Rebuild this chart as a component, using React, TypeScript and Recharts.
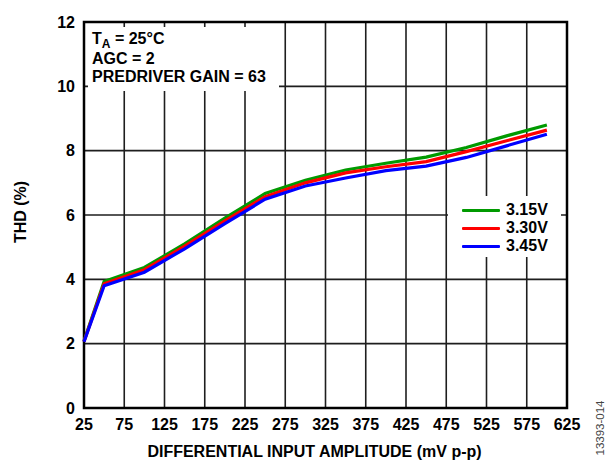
import React from 'react';
import {
  LineChart,
  Line,
  XAxis,
  YAxis,
  CartesianGrid,
  ReferenceArea,
  Legend,
} from 'recharts';

// THD vs differential input amplitude, three supply voltages
const AMPLITUDE = [25, 50, 100, 150, 200, 250, 300, 350, 400, 450, 500, 550, 600];
const THD_315V = [2.08, 3.93, 4.37, 5.1, 5.9, 6.67, 7.08, 7.4, 7.61, 7.8, 8.1, 8.46, 8.8];
const THD_330V = [2.07, 3.86, 4.3, 5.03, 5.82, 6.57, 7.0, 7.31, 7.5, 7.66, 7.97, 8.31, 8.64];
const THD_345V = [2.06, 3.8, 4.22, 4.95, 5.73, 6.49, 6.9, 7.15, 7.38, 7.52, 7.79, 8.15, 8.51];

const X_TICKS = [25, 75, 125, 175, 225, 275, 325, 375, 425, 475, 525, 575, 625];
const Y_TICKS = [0, 2, 4, 6, 8, 10, 12];

const SERIES = [
  { key: 'v315', name: '3.15V', color: '#009a00' },
  { key: 'v330', name: '3.30V', color: '#ff0000' },
  { key: 'v345', name: '3.45V', color: '#0000ff' },
];

const FONT = '"Liberation Sans", Arial, Helvetica, sans-serif';

const data = AMPLITUDE.map((amp, i) => ({
  amp,
  v315: THD_315V[i],
  v330: THD_330V[i],
  v345: THD_345V[i],
}));

const tickStyle = { fill: '#000', fontSize: 16, fontWeight: 'bold', fontFamily: FONT };

const XTitle = ({ viewBox }: any) => {
  const { x, y, width, height } = viewBox;
  return (
    <text x={x + width / 2 - 11} y={y + height - 5} textAnchor="middle" fill="#000"
      fontFamily={FONT} fontWeight="bold" fontSize={16}>
      DIFFERENTIAL INPUT AMPLITUDE (mV p-p)
    </text>
  );
};

const YTitle = ({ viewBox }: any) => {
  const { y, height } = viewBox;
  const cx = 20;
  const cy = y + height / 2 - 3;
  return (
    <text x={cx} y={cy} transform={`rotate(-90, ${cx}, ${cy})`} textAnchor="middle"
      dominantBaseline="central" fill="#000" fontFamily={FONT} fontWeight="bold" fontSize={16}>
      THD (%)
    </text>
  );
};

const LegendBox = ({ payload }: any) => (
  <div style={{ background: '#fff', width: 113, height: 61, paddingTop: 5, boxSizing: 'border-box' }}>
    {(payload || []).map((p: any) => (
      <div key={p.value} style={{ display: 'flex', alignItems: 'center', height: 18 }}>
        <div style={{ width: 38, height: 3, background: p.color, marginLeft: 14, marginRight: 6, borderRadius: 1 }} />
        <span style={{ fontFamily: FONT, fontWeight: 'bold', fontSize: 16, color: '#000', lineHeight: '18px' }}>
          {p.value}
        </span>
      </div>
    ))}
  </div>
);

export default function App() {
  return (
    <div style={{ position: 'absolute', left: 0, top: 0, width: 610, height: 462, background: '#fff' }}>
      <LineChart width={610} height={462} data={data} margin={{ top: 22, right: 43, bottom: 0, left: 0 }}>
        <CartesianGrid stroke="#1e1e1e" strokeWidth={1.6} horizontalValues={Y_TICKS} verticalValues={X_TICKS} />
        <XAxis dataKey="amp" type="number" domain={[25, 625]} ticks={X_TICKS} interval={0}
          axisLine={false} tickLine={false} tickMargin={5} height={54} tick={tickStyle}
          label={<XTitle />} />
        <YAxis type="number" domain={[0, 12]} ticks={Y_TICKS} interval={0} width={84}
          axisLine={false} tickLine={false} tickMargin={3} tick={tickStyle}
          label={<YTitle />} />
        <ReferenceArea x1={25} x2={625} y1={0} y2={12} fill="none" stroke="#000" strokeWidth={2.5} />
        {SERIES.map((s) => (
          <Line key={s.key} type="linear" dataKey={s.key} name={s.name} stroke={s.color}
            strokeWidth={3.2} dot={false} activeDot={false} isAnimationActive={false} />
        ))}
        <Legend layout="vertical" align="center" verticalAlign="middle" content={<LegendBox />}
          wrapperStyle={{ position: 'absolute', left: 448, top: 196, width: 113, height: 61 }} />
      </LineChart>

      <div style={{
        position: 'absolute', left: 88, top: 27, width: 191, height: 64, background: '#fff',
        paddingLeft: 4, paddingTop: 3, boxSizing: 'border-box',
        fontFamily: FONT, fontWeight: 'bold', fontSize: 16, lineHeight: '18.5px', color: '#000',
      }}>
        <div>T<span style={{ fontSize: 12, position: 'relative', top: 4 }}>A</span> = 25°C</div>
        <div>AGC = 2</div>
        <div>PREDRIVER GAIN = 63</div>
      </div>

      <div style={{
        position: 'absolute', left: 600, top: 428, transform: 'translate(-50%, -50%) rotate(-90deg)',
        fontFamily: FONT, fontSize: 11.5, color: '#444', whiteSpace: 'nowrap',
      }}>
        13393-014
      </div>
    </div>
  );
}
